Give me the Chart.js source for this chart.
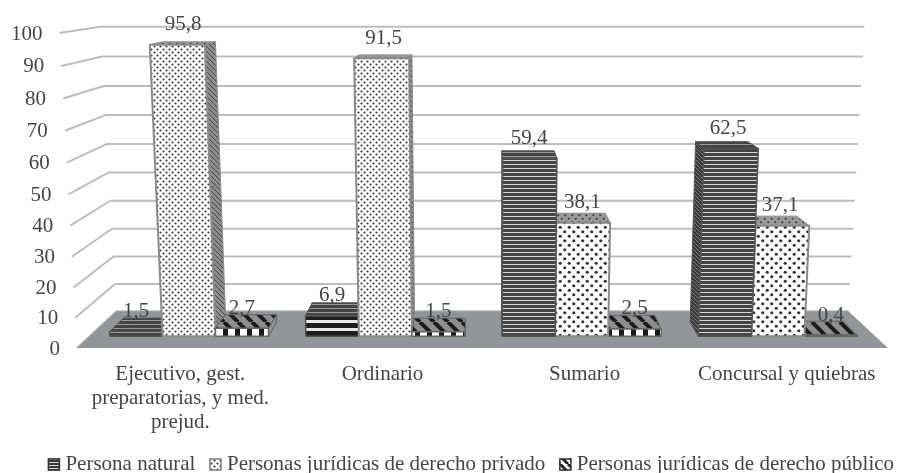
<!DOCTYPE html>
<html>
<head>
<meta charset="utf-8">
<style>
  html, body { margin: 0; background: #fff; }
  canvas { display: block; filter: blur(0.4px); }
</style>
<script src="https://cdn.jsdelivr.net/npm/chart.js@4/dist/chart.umd.min.js"></script>
</head>
<body>
<canvas id="myChart" width="898" height="473"></canvas>
<script>
const categories = [['Ejecutivo, gest.', 'preparatorias, y med.', 'prejud.'], 'Ordinario', 'Sumario', 'Concursal y quiebras'];
const seriesNames = ['Persona natural', 'Personas jurídicas de derecho privado', 'Personas jurídicas de derecho público'];
const personaNatural = [1.5, 6.9, 59.4, 62.5];
const juridicasPrivado = [95.8, 91.5, 38.1, 37.1];
const juridicasPublico = [2.7, 1.5, 2.5, 0.4];

const textColor = '#454545';
const fontFamily = '"Liberation Serif", serif';
const fontSize = 21;

// camera of the fake 3d view
const vanishX = 482, vanishY = -30;
const keystone = 0.000138, wallDepth = 0.0975, barDepth = 0.038;

function tile(w, h, paint) {
  const c = document.createElement('canvas');
  c.width = w; c.height = h;
  paint(c.getContext('2d'), w, h);
  return c.getContext('2d').createPattern(c, 'repeat');
}
function stripes(pitch, dark, light, lightH) {
  return tile(2, pitch, (g, w, h) => {
    g.fillStyle = dark; g.fillRect(0, 0, w, h);
    g.fillStyle = light; g.fillRect(0, 0, w, lightH);
  });
}
function dots(pitch, r, bg, ink) {
  return tile(pitch, pitch, (g, w, h) => {
    g.fillStyle = bg; g.fillRect(0, 0, w, h);
    g.fillStyle = ink;
    [[w / 4, h / 4], [w * 3 / 4, h * 3 / 4]].forEach(p => {
      g.beginPath(); g.arc(p[0], p[1], r, 0, 7); g.fill();
    });
  });
}
function diagonal(size, bg, ink, lw) {
  return tile(size, size, (g, w, h) => {
    g.fillStyle = bg; g.fillRect(0, 0, w, h);
    g.strokeStyle = ink; g.lineWidth = lw;
    [-w, 0, w].forEach(o => {
      g.beginPath(); g.moveTo(o, 0); g.lineTo(o + w, h); g.stroke();
    });
  });
}
function blocks(pitch, bg, ink, inkW) {
  return tile(pitch, 2, (g, w, h) => {
    g.fillStyle = bg; g.fillRect(0, 0, w, h);
    g.fillStyle = ink; g.fillRect(w - inkW, 0, inkW, h);
  });
}

const fineDots = dots(6, 1.1, '#fff', '#3a3a3a');
const wideDots = dots(9, 1.6, '#fff', '#333');
const thinBands = stripes(4, '#444', '#d8d8d8', 1);
const wideBands = stripes(8, '#1d1d1d', '#e8e8e8', 3);
const whiteBlocks = blocks(12, '#fff', '#1a1a1a', 5);
const frontStyles = [
  [thinBands, wideBands, thinBands, thinBands],
  [fineDots, fineDots, wideDots, wideDots],
  [whiteBlocks, whiteBlocks, whiteBlocks, whiteBlocks]
];
const faceStyles = [
  { cap: stripes(4, '#444', '#9a9a9a', 1), side: diagonal(4, '#3c3c3c', '#777', 1), edge: '#555', edgeWidth: 1.5 },
  { cap: dots(7, 1.1, '#9a9a9a', '#3c3c3c'), side: diagonal(5, '#8c8c8c', '#4a4a4a', 1), edge: '#8a8a8a', edgeWidth: 2 },
  { cap: diagonal(14, '#8e8e8e', '#1c1c1c', 4), side: '#8e8e8e', edge: '#666', edgeWidth: 1.5 }
];
const markerStyles = [stripes(3, '#3a3a3a', '#d8d8d8', 1), dots(6, 1.1, '#fff', '#333'), diagonal(8, '#fff', '#222', 3)];

function warpX(x, y, baseY) {
  return vanishX + (x - vanishX) * (1 + (baseY - y) * keystone);
}
function toBack(p, s) {
  return { x: p.x + (vanishX - p.x) * s, y: p.y + (vanishY - p.y) * s };
}
function fillQuad(g, pts, fill, edge, lw) {
  g.beginPath();
  pts.forEach((p, i) => i ? g.lineTo(p.x, p.y) : g.moveTo(p.x, p.y));
  g.closePath();
  g.fillStyle = fill;
  g.fill();
  if (edge) { g.strokeStyle = edge; g.lineWidth = lw; g.stroke(); }
}

// linear scale with a small perspective squeeze towards the top
class WallScale extends Chart.LinearScale {
  static id = 'wall';
  getPixelForValue(value) {
    const t = (value - this.min) / (this.max - this.min);
    return this.getPixelForDecimal(t / (t + (1 - t) * this.options.squeeze));
  }
}
Chart.register(WallScale);

const scene3d = {
  id: 'scene3d',
  afterUpdate(chart) {
    const area = chart.chartArea, y = chart.scales.y, x = chart.scales.x, legend = chart.legend;
    y.getLabelItems(area).forEach((item, i) => {
      const py = y.getPixelForTick(i);
      item.options.translation[0] = warpX(area.left - 14, py, area.bottom) - 17;
      item.options.translation[1] += 1;
    });
    x.getLabelItems(area).forEach(item => {
      item.options.translation[0] = vanishX + (item.options.translation[0] - vanishX) * 1.03;
    });
    legend.left += 22;
    legend.right += 22;
    legend.legendHitBoxes.forEach(box => { box.left += 22; });
  },
  beforeDatasetsDraw(chart) {
    const g = chart.ctx, area = chart.chartArea, y = chart.scales.y;
    const left = area.left - 14, right = area.right + 12;
    g.save();
    g.lineJoin = 'round';
    g.strokeStyle = '#bdbdbd';
    g.lineWidth = 2;
    y.ticks.forEach(t => {
      const py = y.getPixelForValue(t.value);
      const a = { x: warpX(left, py, area.bottom), y: py };
      const b = toBack(a, wallDepth);
      const c = toBack({ x: warpX(right, py, area.bottom), y: py }, wallDepth);
      g.beginPath();
      g.moveTo(a.x, a.y); g.lineTo(b.x, b.y); g.lineTo(c.x, c.y);
      g.stroke();
    });
    const fl = { x: left, y: area.bottom }, fr = { x: right, y: area.bottom };
    fillQuad(g, [fl, toBack(fl, wallDepth), toBack(fr, wallDepth), fr], '#939598');
    g.restore();
  },
  beforeDatasetDraw() {
    return false;
  },
  afterDatasetsDraw(chart) {
    const g = chart.ctx, bars = [];
    chart.data.datasets.forEach((ds, d) => {
      chart.getDatasetMeta(d).data.forEach((el, i) => bars.push({ el, d, i, value: ds.data[i] }));
    });
    bars.sort((a, b) => Math.abs(b.el.x - vanishX) - Math.abs(a.el.x - vanishX));
    g.save();
    g.lineJoin = 'round';
    bars.forEach(({ el, d, i }) => {
      const l = el.x - el.width / 2, r = el.x + el.width / 2, face = faceStyles[d];
      const tl = { x: warpX(l, el.y, el.base), y: el.y }, tr = { x: warpX(r, el.y, el.base), y: el.y };
      const bl = { x: l, y: el.base }, br = { x: r, y: el.base };
      const outer = el.x < vanishX ? [tr, br] : [tl, bl];
      fillQuad(g, [outer[0], toBack(outer[0], barDepth), toBack(outer[1], barDepth), outer[1]], face.side, face.edge, 1);
      fillQuad(g, [tl, toBack(tl, barDepth), toBack(tr, barDepth), tr], face.cap, face.edge, 1);
      fillQuad(g, [tl, tr, br, bl], frontStyles[d][i], face.edge, face.edgeWidth);
    });
    g.fillStyle = textColor;
    g.font = fontSize + 'px ' + fontFamily;
    g.textAlign = 'center';
    g.textBaseline = 'middle';
    bars.forEach(({ el, value }) => {
      const labelX = (el.x + warpX(el.x, el.y, el.base)) / 2;
      g.fillText(value.toFixed(1).replace('.', ','), labelX, el.y - 20);
    });
    g.restore();
  },
  afterDraw(chart) {
    const g = chart.ctx;
    chart.legend.legendHitBoxes.forEach((box, i) => {
      const top = box.top + box.height / 2 - 6;
      g.fillStyle = markerStyles[i];
      g.fillRect(box.left, top, 12, 12);
      g.strokeStyle = i === 1 ? '#808080' : '#333';
      g.lineWidth = 1.5;
      g.strokeRect(box.left + 0.5, top + 0.5, 11, 11);
    });
  }
};

const myChart = new Chart(document.getElementById('myChart'), {
  type: 'bar',
  data: {
    labels: categories,
    datasets: [personaNatural, juridicasPrivado, juridicasPublico].map((values, d) => ({
      label: seriesNames[d],
      data: values,
      yAxisID: 'barY',
      backgroundColor: 'transparent'
    }))
  },
  options: {
    responsive: false,
    animation: false,
    layout: { padding: { top: 33, bottom: -12 } },
    datasets: { bar: { barPercentage: 1, categoryPercentage: 0.81 } },
    scales: {
      x: {
        grid: { display: false },
        border: { display: false },
        ticks: { color: textColor, font: { family: fontFamily, size: fontSize, lineHeight: 1.15 }, padding: 6, maxRotation: 0, autoSkip: false },
        afterFit(s) { s.height = 92; }
      },
      y: {
        type: 'wall',
        squeeze: 1.05,
        min: 0,
        max: 100,
        grid: { display: false },
        border: { display: false },
        ticks: { stepSize: 10, color: textColor, font: { family: fontFamily, size: fontSize } },
        afterFit(s) { s.width = 91; }
      },
      barY: {
        type: 'wall',
        position: 'right',
        squeeze: 1.04,
        min: -4,
        max: 99.5,
        grid: { display: false },
        border: { display: false },
        ticks: { display: false },
        afterFit(s) { s.width = 22; }
      }
    },
    plugins: {
      tooltip: { enabled: false },
      legend: {
        position: 'bottom',
        labels: {
          color: textColor,
          font: { family: fontFamily, size: fontSize },
          boxWidth: 7,
          boxHeight: 12,
          padding: 14
        }
      }
    }
  },
  plugins: [scene3d]
});
</script>
</body>
</html>
